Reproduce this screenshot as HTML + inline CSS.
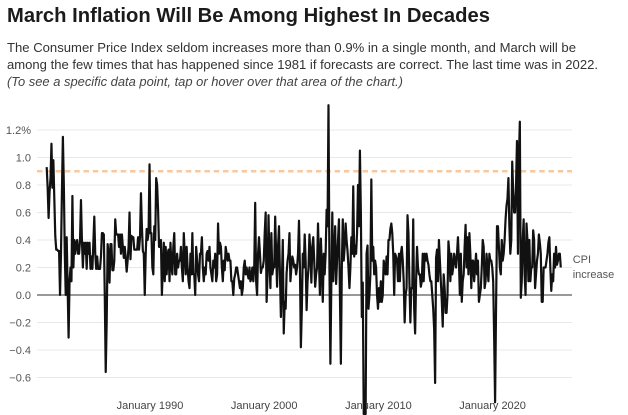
<!DOCTYPE html>
<html>
<head>
<meta charset="utf-8">
<style>
  html,body{margin:0;padding:0;background:#fff;overflow:hidden;}
  svg{display:block;}
  text{font-family:"Liberation Sans",Arial,sans-serif;}
</style>
</head>
<body>
<svg width="628" height="415" viewBox="0 0 628 415" xmlns="http://www.w3.org/2000/svg">
  <defs>
    <clipPath id="cp"><rect x="0" y="0" width="628" height="415"/></clipPath>
  </defs>
  <rect width="628" height="415" fill="#fff"/>
  <!-- Title and subtitle -->
  <text x="7" y="22" font-size="20" font-weight="bold" fill="#1b1b1b" textLength="483" lengthAdjust="spacingAndGlyphs">March Inflation Will Be Among Highest In Decades</text>
  <text x="7" y="52" font-size="13" fill="#333" textLength="569" lengthAdjust="spacingAndGlyphs">The Consumer Price Index seldom increases more than 0.9% in a single month, and March will be</text>
  <text x="7" y="69" font-size="13" fill="#333" textLength="591" lengthAdjust="spacingAndGlyphs">among the few times that has happened since 1981 if forecasts are correct. The last time was in 2022.</text>
  <text x="7" y="86" font-size="13" font-style="italic" fill="#444" textLength="396" lengthAdjust="spacingAndGlyphs">(To see a specific data point, tap or hover over that area of the chart.)</text>

  <!-- Gridlines -->
  <g stroke="#e8e8e8" stroke-width="1">
    <line x1="37" x2="572" y1="130" y2="130"/>
    <line x1="37" x2="572" y1="157.5" y2="157.5"/>
    <line x1="37" x2="572" y1="185" y2="185"/>
    <line x1="37" x2="572" y1="212.5" y2="212.5"/>
    <line x1="37" x2="572" y1="240" y2="240"/>
    <line x1="37" x2="572" y1="267.5" y2="267.5"/>
    <line x1="37" x2="572" y1="322.5" y2="322.5"/>
    <line x1="37" x2="572" y1="350" y2="350"/>
    <line x1="37" x2="572" y1="377.5" y2="377.5"/>
  </g>
  <line x1="37" x2="572" y1="295" y2="295" stroke="#333" stroke-width="1"/>

  <!-- Y labels -->
  <g font-size="11" fill="#555" text-anchor="end">
    <text x="31" y="134">1.2%</text>
    <text x="31" y="161.5">1.0</text>
    <text x="31" y="189">0.8</text>
    <text x="31" y="216.5">0.6</text>
    <text x="31" y="244">0.4</text>
    <text x="31" y="271.5">0.2</text>
    <text x="31" y="299">0.0</text>
    <text x="31" y="326.5">−0.2</text>
    <text x="31" y="354">−0.4</text>
    <text x="31" y="381.5">−0.6</text>
  </g>

  <!-- X labels -->
  <g font-size="11" fill="#444" text-anchor="middle">
    <text x="150" y="409">January 1990</text>
    <text x="264.2" y="409">January 2000</text>
    <text x="378.4" y="409">January 2010</text>
    <text x="492.6" y="409">January 2020</text>
  </g>

  <!-- 0.9 reference dashed line -->
  <line x1="37" x2="572" y1="171.25" y2="171.25" stroke="#f8c8a0" stroke-width="2.6" stroke-dasharray="5.5 3.8"/>

  <!-- Series -->
  <polyline id="ln" clip-path="url(#cp)" fill="none" stroke="#111" stroke-width="2.2" stroke-linejoin="round" points=""/>

  <!-- Series label -->
  <g font-size="11" fill="#555">
    <text x="572.7" y="263">CPI</text>
    <text x="572.7" y="278">increase</text>
  </g>
</svg>
<script>
var Y = [
[0.93,0.78,0.56,0.75,0.85,1.1,0.78,0.98,0.7,0.43,0.33,0.33],
[0.32,0.32,0.0,0.3,0.75,1.15,0.8,0.3,0.0,0.42,0.05,-0.31],
[0.1,0.2,0.1,0.72,0.2,0.4,0.3,0.38,0.4,0.3,0.3,0.4],
[0.69,0.4,0.2,0.38,0.3,0.38,0.19,0.38,0.3,0.38,0.19,0.28],
[0.19,0.38,0.57,0.3,0.19,0.28,0.19,0.19,0.19,0.28,0.45,0.45],
[0.44,0.0,-0.56,-0.2,0.37,0.3,0.09,0.37,0.37,0.18,0.18,0.25],
[0.55,0.44,0.44,0.44,0.35,0.44,0.3,0.44,0.35,0.27,0.35,0.27],
[0.17,0.25,0.35,0.6,0.26,0.43,0.42,0.42,0.33,0.33,0.33,0.33],
[0.42,0.33,0.42,0.74,0.5,0.32,0.3,0.0,0.3,0.48,0.4,0.45],
[0.95,0.45,0.45,0.2,0.15,0.5,0.4,0.85,0.8,0.62,0.35,0.35],
[0.4,0.0,0.2,0.38,0.1,0.35,0.15,0.3,0.33,0.1,0.38,0.22],
[0.15,0.35,0.45,0.15,0.15,0.3,0.2,0.25,0.25,0.35,0.2,0.1],
[0.45,0.3,0.15,0.35,0.2,0.1,0.05,0.3,0.15,0.45,0.15,0.15],
[0.0,0.35,0.25,0.15,0.1,0.3,0.3,0.42,0.2,0.1,0.2,0.15],
[0.3,0.32,0.25,0.35,0.2,0.15,0.1,0.25,0.2,0.3,0.1,0.15],
[0.52,0.3,0.38,0.35,0.2,0.1,0.25,0.18,0.35,0.3,0.25,0.3],
[0.25,0.25,0.1,0.1,0.0,0.12,0.15,0.2,0.2,0.15,0.1,0.05],
[0.1,0.0,0.05,0.2,0.25,0.15,0.2,0.15,0.12,0.2,0.1,0.12],
[0.2,0.1,0.2,0.67,0.1,0.0,0.3,0.42,0.3,0.16,0.2,0.2],
[0.25,0.45,0.6,-0.05,0.15,0.58,0.25,0.05,0.45,0.15,0.2,0.2],
[0.57,0.3,0.06,0.35,0.5,0.15,-0.16,0.1,0.4,-0.28,-0.05,-0.1],
[0.16,0.25,0.3,0.45,0.1,0.2,0.28,0.25,0.2,0.22,0.15,0.2],
[0.3,0.54,0.2,-0.38,-0.1,0.3,0.2,0.44,0.25,-0.11,0.1,0.2],
[0.44,0.3,0.09,0.35,0.42,0.25,0.06,0.15,0.2,0.52,0.25,0.0],
[0.41,0.2,-0.05,0.3,0.15,0.3,0.62,0.5,1.38,0.2,-0.5,0.1],
[0.6,0.1,0.3,0.5,0.08,0.25,0.4,0.55,0.0,-0.5,0.2,0.55],
[0.25,0.35,0.52,0.4,0.32,0.2,0.05,0.2,0.42,0.3,0.79,0.28],
[0.36,0.3,0.45,0.8,0.5,1.05,0.6,-0.16,0.09,-0.9,-1.8,-0.9],
[0.3,0.36,-0.1,0.0,0.15,0.84,0.25,0.35,0.15,0.25,0.2,0.0],
[-0.1,0.05,-0.05,0.1,-0.05,0.0,0.25,0.2,0.15,0.28,0.15,0.4],
[0.4,0.48,0.52,0.45,0.3,0.0,0.3,0.28,0.25,0.1,0.3,0.1],
[0.3,0.35,0.25,0.1,-0.2,0.0,0.05,0.58,0.45,0.1,-0.2,0.05],
[0.05,0.55,-0.1,-0.28,0.1,0.35,0.2,0.15,0.15,0.06,0.1,0.3],
[0.1,0.3,0.25,0.3,0.25,0.22,0.15,0.1,0.1,0.0,-0.1,-0.25],
[-0.64,0.27,0.33,0.1,0.4,0.25,0.1,-0.04,-0.23,0.15,0.05,-0.13],
[-0.13,0.0,0.39,0.3,0.1,0.3,0.15,0.2,0.3,0.25,0.2,0.3],
[0.42,0.25,0.0,0.3,-0.05,0.1,0.15,0.35,0.51,0.2,0.42,0.15],
[0.45,0.3,0.05,0.25,0.25,0.1,0.2,0.3,0.15,0.25,-0.05,0.0],
[0.05,0.2,0.4,0.35,0.05,0.1,0.3,0.2,0.1,0.3,0.25,0.25],
[0.2,0.1,-0.3,-0.78,-0.1,0.5,0.5,0.35,0.2,0.15,0.4,0.25],
[0.3,0.4,0.55,0.65,0.7,0.85,0.5,0.3,0.4,0.97,0.75,0.6],
[0.6,0.8,1.12,0.3,1.0,1.26,-0.02,0.1,0.4,0.55,0.15,0.0],
[0.52,0.4,0.1,0.4,0.1,0.2,0.2,0.47,0.4,0.05,0.15,0.25],
[0.3,0.44,0.38,0.3,-0.05,-0.05,0.2,0.2,0.2,0.25,0.3,0.38],
[0.42,0.2,0.03,0.15,0.1,0.3,0.2,0.35,0.22,0.25,0.3,0.3],
[0.2]
];
var d = [];
for (var a = 0; a < Y.length; a++) for (var b = 0; b < Y[a].length; b++) d.push(Y[a][b]);
var pts = [];
for (var i = 0; i < d.length; i++) {
  var y = 295 - d[i] * 137.5;
  if (y > 414) y = 414;
  pts.push((46.7 + i * 0.952).toFixed(2) + "," + y.toFixed(2));
}
document.getElementById("ln").setAttribute("points", pts.join(" "));
</script>
</body>
</html>
